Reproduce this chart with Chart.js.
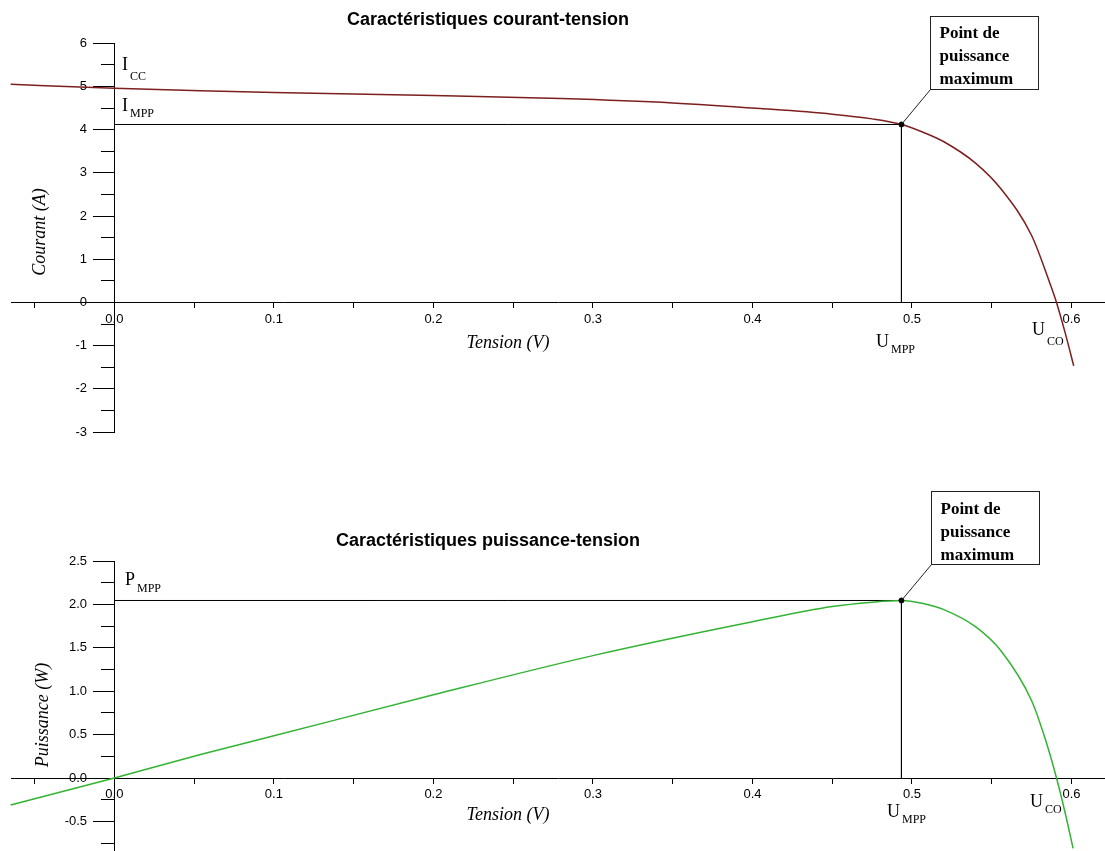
<!DOCTYPE html>
<html>
<head>
<meta charset="utf-8">
<script src="https://cdn.jsdelivr.net/npm/chart.js@4.4.1/dist/chart.umd.min.js"></script>
<style>
  html, body { margin: 0; padding: 0; background: #ffffff; }
  #wrap { position: relative; width: 1105px; height: 851px; overflow: hidden; background: #fff; }
  #c1 { position: absolute; left: 0; top: 0; }
  #c2 { position: absolute; left: 0; top: 470px; }
</style>
</head>
<body>
<div id="wrap">
  <canvas id="c1" width="1105" height="470"></canvas>
  <canvas id="c2" width="1105" height="381"></canvas>
</div>
<script>
// ---------------- DATA ----------------
const ivVoltage = [-0.065, 0.0, 0.054, 0.1, 0.2, 0.28, 0.35, 0.405, 0.45, 0.475, 0.4934, 0.507, 0.52, 0.54, 0.556, 0.575, 0.586, 0.5906, 0.596, 0.6014];
const ivCurrent = [5.05, 4.96, 4.90, 4.86, 4.79, 4.72, 4.62, 4.49, 4.36, 4.25, 4.12, 3.94, 3.72, 3.22, 2.62, 1.55, 0.49, 0.00, -0.70, -1.47];

const pvVoltage = [-0.065, 0.0, 0.054, 0.1, 0.2, 0.3, 0.4, 0.45, 0.475, 0.4934, 0.507, 0.52, 0.54, 0.556, 0.575, 0.5837, 0.5906, 0.596, 0.601];
const pvPower   = [-0.31, 0.0, 0.27, 0.486, 0.958, 1.41, 1.80, 1.975, 2.025, 2.045, 2.01, 1.94, 1.74, 1.46, 0.89, 0.44, 0.00, -0.40, -0.81];

const mppVoltage = 0.4934;
const mppCurrent = 4.12;
const mppPower = 2.045;

const xRange = [-0.0648, 0.621];
const ivRange = [-3, 6];
const pvRange = [-0.841, 2.5];

const titles = ['Caractéristiques courant-tension', 'Caractéristiques puissance-tension'];
const xTitle = 'Tension (V)';
const ivTitle = 'Courant (A)';
const pvTitle = 'Puissance (W)';
const boxLines = ['Point de', 'puissance', 'maximum'];

// ---------------- helpers ----------------
const SANS = "'Liberation Sans', Arial, sans-serif";
const SERIF = "'Liberation Serif', 'Times New Roman', serif";
const Y_LABEL_X = -0.0171;   // value on the x scale where y tick labels end

function pts(xs, ys) { return xs.map((x, i) => ({ x: x, y: ys[i] })); }

function zeroFit(s) {
  if (s.isHorizontal()) s.height = 0; else s.width = 0;
  s.paddingLeft = 0; s.paddingRight = 0; s.paddingTop = 0; s.paddingBottom = 0;
}

function isTenth(v) { return Math.abs(v * 10 - Math.round(v * 10)) < 1e-6; }

function makeScales(yMin, yMax, majorStep, minorStep, yFmt) {
  return {
    x: {
      type: 'linear', min: xRange[0], max: xRange[1],
      position: { y: 0 },
      afterFit: zeroFit,
      border: { display: true, color: '#000', width: 1 },
      grid: { drawOnChartArea: false, drawTicks: true, tickLength: 5, tickColor: '#000', tickWidth: 1 },
      ticks: {
        stepSize: 0.05, includeBounds: false, autoSkip: false, maxRotation: 0,
        color: '#000', font: { family: SANS, size: 13 }, padding: 4,
        callback: v => (isTenth(v) && v >= -1e-9) ? v.toFixed(1) : ''
      }
    },
    y: {
      type: 'linear', min: yMin, max: yMax,
      position: { x: 0 },
      afterFit: zeroFit,
      border: { display: true, color: '#000', width: 1 },
      grid: { drawOnChartArea: false, drawTicks: true, tickLength: 21, tickColor: '#000', tickWidth: 1 },
      ticks: { stepSize: majorStep, includeBounds: false, autoSkip: false, callback: () => '' }
    },
    yMinor: {
      type: 'linear', axis: 'y', min: yMin, max: yMax,
      position: { x: 0 },
      afterFit: zeroFit,
      border: { display: false },
      grid: { drawOnChartArea: false, drawTicks: true, tickLength: 13, tickColor: '#000', tickWidth: 1 },
      ticks: { stepSize: minorStep, includeBounds: false, autoSkip: false, callback: () => '' }
    },
    yLabels: {
      type: 'linear', axis: 'y', min: yMin, max: yMax,
      position: { x: Y_LABEL_X },
      afterFit: zeroFit,
      border: { display: false },
      grid: { drawOnChartArea: false, drawTicks: false },
      ticks: {
        stepSize: majorStep, includeBounds: false, autoSkip: false,
        color: '#000', font: { family: SANS, size: 13 }, padding: 0,
        callback: yFmt
      }
    }
  };
}

function subLabel(ctx, main, sub, x, yMain, ySub) {
  ctx.save();
  ctx.fillStyle = '#000';
  ctx.textAlign = 'left';
  ctx.textBaseline = 'alphabetic';
  ctx.font = '18px ' + SERIF;
  ctx.fillText(main, x, yMain);
  const w = ctx.measureText(main).width;
  ctx.font = '12px ' + SERIF;
  ctx.fillText(sub, x + w + 2, ySub);
  ctx.restore();
}

const decor = {
  id: 'decor',
  afterDraw(chart, args, o) {
    const ctx = chart.ctx;
    const xs = chart.scales.x, ys = chart.scales.y;
    ctx.save();
    // title
    ctx.fillStyle = '#000';
    ctx.font = 'bold 18px ' + SANS;
    ctx.textAlign = 'center';
    ctx.textBaseline = 'alphabetic';
    ctx.fillText(o.title, o.titleX, o.titleY);
    // x axis title
    ctx.font = 'italic 18px ' + SERIF;
    ctx.fillText(xTitle, o.xTitleX, ys.getPixelForValue(0) + o.xTitleDy);
    // y axis title (rotated)
    ctx.save();
    ctx.translate(o.yTitleX, o.yTitleY);
    ctx.rotate(-Math.PI / 2);
    ctx.textBaseline = 'middle';
    ctx.fillText(o.yTitle, 0, 0);
    ctx.restore();
    // subscript labels
    o.labels.forEach(l => subLabel(ctx, l[0], l[1], l[2], l[3], l[4]));
    // annotation box + leader line
    const px = xs.getPixelForValue(mppVoltage), py = ys.getPixelForValue(o.mppY);
    const b = o.box;
    ctx.strokeStyle = '#222';
    ctx.lineWidth = 1;
    ctx.beginPath();
    ctx.moveTo(px, py);
    ctx.lineTo(b.x, b.y + b.h);
    ctx.stroke();
    ctx.fillStyle = '#fff';
    ctx.fillRect(b.x, b.y, b.w, b.h);
    ctx.strokeRect(b.x, b.y, b.w, b.h);
    ctx.fillStyle = '#000';
    ctx.font = 'bold 17px ' + SERIF;
    ctx.textAlign = 'left';
    boxLines.forEach((t, i) => ctx.fillText(t, b.x + 9, b.y + b.base + i * 23));
    ctx.restore();
  }
};

function mppDatasets(yVal) {
  return [
    { data: [{ x: 0, y: yVal }, { x: mppVoltage, y: yVal }], showLine: true, borderColor: '#000', borderWidth: 1, pointRadius: 0, tension: 0, order: 3 },
    { data: [{ x: mppVoltage, y: yVal }, { x: mppVoltage, y: 0 }], showLine: true, borderColor: '#000', borderWidth: 1, pointRadius: 0, tension: 0, order: 3 },
    { data: [{ x: mppVoltage, y: yVal }], showLine: false, pointRadius: 2.5, pointBackgroundColor: '#000', pointBorderColor: '#000', order: 0 }
  ];
}

const common = {
  responsive: false,
  animation: false,
  events: [],
  plugins: { legend: { display: false }, tooltip: { enabled: false }, title: { display: false } }
};

// ---------------- chart 1 : current-voltage ----------------
new Chart(document.getElementById('c1'), {
  type: 'scatter',
  data: {
    datasets: [
      { data: pts(ivVoltage, ivCurrent), showLine: true, borderColor: '#7d1f1f', borderWidth: 1.5,
        pointRadius: 0, cubicInterpolationMode: 'monotone', clip: false, order: 1 }
    ].concat(mppDatasets(mppCurrent))
  },
  options: Object.assign({}, common, {
    layout: { autoPadding: false, padding: { left: 11, right: 0, top: 43.3, bottom: 38 } },
    scales: makeScales(ivRange[0], ivRange[1], 1, 0.5, v => String(Math.round(v))),
    plugins: Object.assign({}, common.plugins, {
      decor: {
        title: titles[0], titleX: 488, titleY: 25,
        xTitleX: 508, xTitleDy: 46,
        yTitle: ivTitle, yTitleX: 40, yTitleY: 232,
        mppY: mppCurrent,
        labels: [['I', 'CC', 122, 70, 80], ['I', 'MPP', 122, 111, 117], ['U', 'MPP', 876, 347, 353], ['U', 'CO', 1032, 335, 345]],
        box: { x: 930.5, y: 16.5, w: 108, h: 73, base: 21 }
      }
    })
  }),
  plugins: [decor]
});

// ---------------- chart 2 : power-voltage ----------------
new Chart(document.getElementById('c2'), {
  type: 'scatter',
  data: {
    datasets: [
      { data: pts(pvVoltage, pvPower), showLine: true, borderColor: '#33b333', borderWidth: 1.5,
        pointRadius: 0, cubicInterpolationMode: 'monotone', clip: false, order: 1 }
    ].concat(mppDatasets(mppPower))
  },
  options: Object.assign({}, common, {
    layout: { autoPadding: false, padding: { left: 11, right: 0, top: 91, bottom: 0 } },
    scales: makeScales(pvRange[0], pvRange[1], 0.5, 0.25, v => v.toFixed(1)),
    plugins: Object.assign({}, common.plugins, {
      decor: {
        title: titles[1], titleX: 488, titleY: 76,
        xTitleX: 508, xTitleDy: 42,
        yTitle: pvTitle, yTitleX: 43, yTitleY: 245,
        mppY: mppPower,
        labels: [['P', 'MPP', 125, 115, 122], ['U', 'MPP', 887, 347, 353], ['U', 'CO', 1030, 337, 343]],
        box: { x: 931.5, y: 21.5, w: 108, h: 73, base: 22 }
      }
    })
  }),
  plugins: [decor]
});
</script>
</body>
</html>
